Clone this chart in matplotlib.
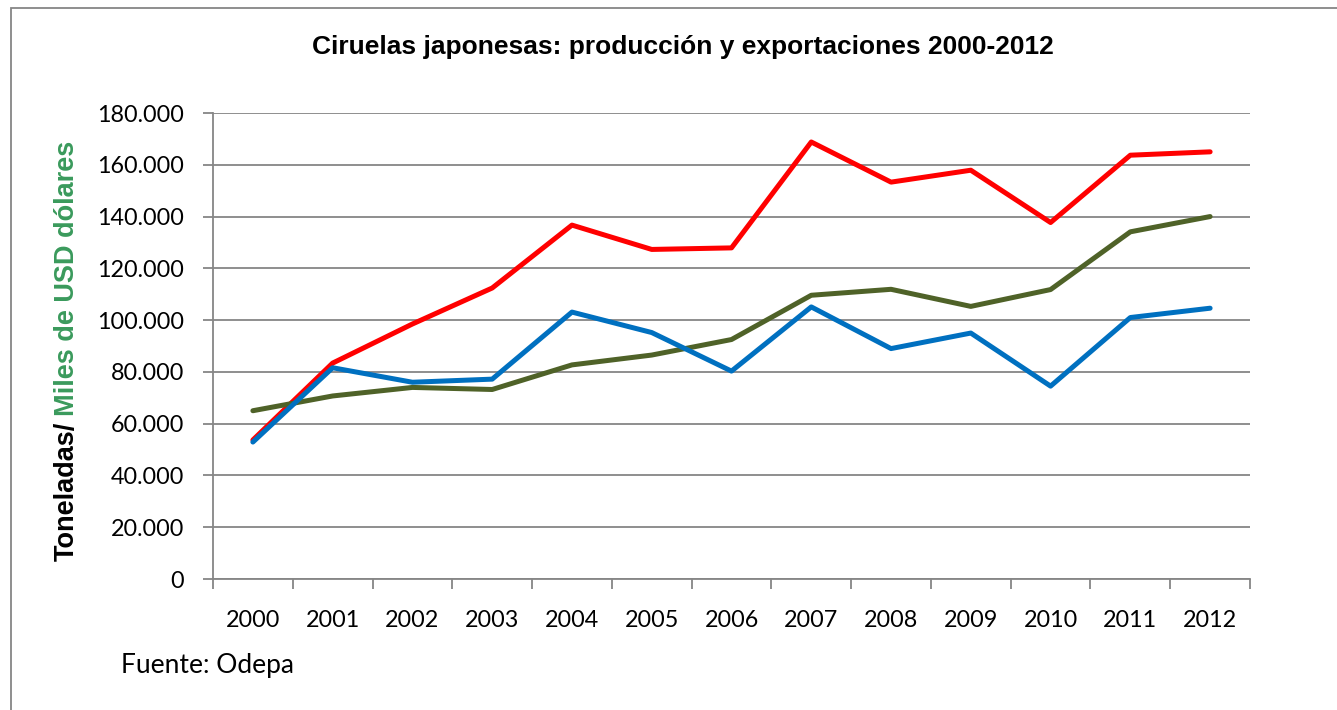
import numpy as np
import matplotlib.pyplot as plt
from matplotlib.patches import Rectangle

# Data
years = ['2000', '2001', '2002', '2003', '2004', '2005', '2006',
         '2007', '2008', '2009', '2010', '2011', '2012']
serie_roja = [53700, 83400, 98500, 112400, 136700, 127300, 127900,
              168800, 153300, 157900, 137700, 163700, 165000]
serie_azul = [52900, 81600, 76000, 77200, 103100, 95200, 80300,
              105100, 89000, 95000, 74500, 101000, 104600]
serie_verde = [65000, 70700, 74000, 73200, 82700, 86500, 92500,
               109600, 111900, 105300, 111800, 134100, 140000]
yticks = np.arange(0, 180001, 20000)
ytick_labels = ['0' if v == 0 else f'{v:,}'.replace(',', '.') for v in yticks]

tick_font = 'Lato'
grey = '#868686'

fig = plt.figure(figsize=(13.37, 7.1), dpi=100)
ax = fig.add_axes([213/1337, 131/710, 1037/1337, 466/710])

x = np.arange(len(years))
ax.plot(x, serie_roja, color='#FF0000', lw=3.6, solid_capstyle='round', zorder=3)
ax.plot(x, serie_verde, color='#4F6228', lw=3.6, solid_capstyle='round', zorder=3)
ax.plot(x, serie_azul, color='#0070C0', lw=3.6, solid_capstyle='round', zorder=3)

ax.set_xlim(-0.5, len(years) - 0.5)
ax.set_ylim(0, 180000)
ax.set_yticks(yticks)
ax.set_yticklabels(ytick_labels, fontfamily=tick_font, fontsize=16.8)
ax.yaxis.grid(True, color=grey, lw=1.3)
ax.set_axisbelow(True)

# category labels centred, ticks at the category boundaries
ax.set_xticks(x)
ax.set_xticklabels(years, fontfamily=tick_font, fontsize=16.8)
ax.tick_params(axis='x', which='major', length=0, pad=22)
ax.set_xticks(np.arange(-0.5, len(years)), minor=True)
ax.tick_params(axis='x', which='minor', length=7, width=1.3, color=grey)
ax.tick_params(axis='y', length=7, width=1.3, color=grey, pad=14)

for s in ['top', 'right']:
    ax.spines[s].set_visible(False)
for s in ['left', 'bottom']:
    ax.spines[s].set_color(grey)
    ax.spines[s].set_linewidth(1.3)

fig.text(683/1337, 1 - 47/710, 'Ciruelas japonesas: producción y exportaciones 2000-2012',
         ha='center', va='center', fontsize=19, fontweight='bold',
         fontfamily='Liberation Sans')

fig.text(121/1337, 1 - 665/710, 'Fuente: Odepa', ha='left', va='center',
         fontsize=19, fontfamily=tick_font)

# two-colour vertical axis title
t1 = fig.text(67/1337, 1 - 561/710, 'Toneladas/', rotation=90, ha='center', va='bottom',
              fontsize=19.5, fontweight='bold', fontfamily='Liberation Sans', color='black')
fig.canvas.draw()
bb = t1.get_window_extent(renderer=fig.canvas.get_renderer())
fig.text(67/1337, (bb.y1 + 6) / fig.bbox.height, 'Miles de USD dólares', rotation=90,
         ha='center', va='bottom', fontsize=19.5, fontweight='bold',
         fontfamily='Liberation Sans', color='#3A9A5C')

# outer frame (right and bottom edges fall outside the picture)
fig.patches.append(Rectangle((11/1337, -0.1), 1.2, 1 - 8/710 + 0.1,
                             transform=fig.transFigure, fill=False,
                             edgecolor=grey, lw=1.3))

fig.savefig('out.png', dpi=100)
